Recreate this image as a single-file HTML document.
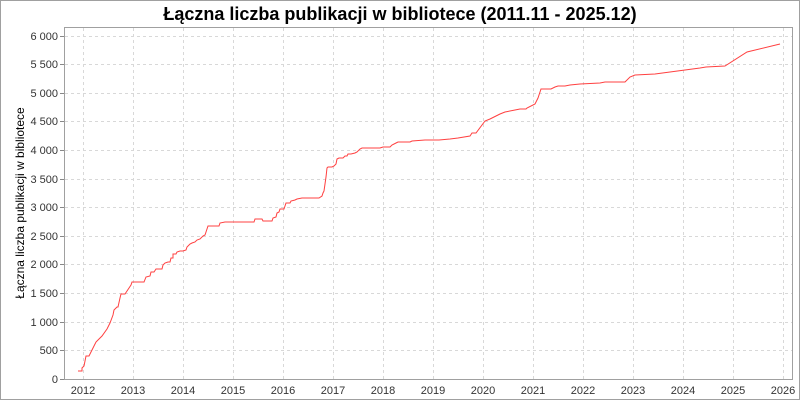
<!DOCTYPE html>
<html><head><meta charset="utf-8"><style>
body{margin:0;background:#fff}
svg{display:block;font-family:"Liberation Sans",sans-serif}
</style></head><body>
<svg width="800" height="400" viewBox="0 0 800 400">
<rect x="0.5" y="0.5" width="799" height="399" fill="#fff" stroke="#a0a0a0"/>
<text x="400" y="20" text-anchor="middle" font-size="18" font-weight="bold" fill="#000">Łączna liczba publikacji w bibliotece (2011.11 - 2025.12)</text>
<rect x="64.5" y="27.5" width="728" height="352" fill="#fff" stroke="#a0a0a0"/>
<g stroke="#d8d8d8" stroke-dasharray="3,3" stroke-width="1">
<line x1="65" x2="792" y1="36.5" y2="36.5"/><line x1="65" x2="792" y1="64.5" y2="64.5"/><line x1="65" x2="792" y1="93.5" y2="93.5"/><line x1="65" x2="792" y1="121.5" y2="121.5"/><line x1="65" x2="792" y1="150.5" y2="150.5"/><line x1="65" x2="792" y1="179.5" y2="179.5"/><line x1="65" x2="792" y1="207.5" y2="207.5"/><line x1="65" x2="792" y1="236.5" y2="236.5"/><line x1="65" x2="792" y1="264.5" y2="264.5"/><line x1="65" x2="792" y1="293.5" y2="293.5"/><line x1="65" x2="792" y1="322.5" y2="322.5"/><line x1="65" x2="792" y1="350.5" y2="350.5"/>
<line y1="28" y2="379" x1="83.5" x2="83.5"/><line y1="28" y2="379" x1="133.5" x2="133.5"/><line y1="28" y2="379" x1="183.5" x2="183.5"/><line y1="28" y2="379" x1="233.5" x2="233.5"/><line y1="28" y2="379" x1="283.5" x2="283.5"/><line y1="28" y2="379" x1="333.5" x2="333.5"/><line y1="28" y2="379" x1="383.5" x2="383.5"/><line y1="28" y2="379" x1="433.5" x2="433.5"/><line y1="28" y2="379" x1="483.5" x2="483.5"/><line y1="28" y2="379" x1="533.5" x2="533.5"/><line y1="28" y2="379" x1="583.5" x2="583.5"/><line y1="28" y2="379" x1="633.5" x2="633.5"/><line y1="28" y2="379" x1="683.5" x2="683.5"/><line y1="28" y2="379" x1="733.5" x2="733.5"/><line y1="28" y2="379" x1="783.5" x2="783.5"/>
</g>
<g stroke="#888" stroke-width="1">
<line x1="60" x2="64" y1="36.5" y2="36.5"/><line x1="60" x2="64" y1="64.5" y2="64.5"/><line x1="60" x2="64" y1="93.5" y2="93.5"/><line x1="60" x2="64" y1="121.5" y2="121.5"/><line x1="60" x2="64" y1="150.5" y2="150.5"/><line x1="60" x2="64" y1="179.5" y2="179.5"/><line x1="60" x2="64" y1="207.5" y2="207.5"/><line x1="60" x2="64" y1="236.5" y2="236.5"/><line x1="60" x2="64" y1="264.5" y2="264.5"/><line x1="60" x2="64" y1="293.5" y2="293.5"/><line x1="60" x2="64" y1="322.5" y2="322.5"/><line x1="60" x2="64" y1="350.5" y2="350.5"/><line x1="60" x2="64" y1="379.5" y2="379.5"/>
</g>
<g font-size="11" fill="#333" text-anchor="end">
<text x="58" y="40">6 000</text><text x="58" y="68">5 500</text><text x="58" y="97">5 000</text><text x="58" y="125">4 500</text><text x="58" y="154">4 000</text><text x="58" y="183">3 500</text><text x="58" y="211">3 000</text><text x="58" y="240">2 500</text><text x="58" y="268">2 000</text><text x="58" y="297">1 500</text><text x="58" y="326">1 000</text><text x="58" y="354">500</text><text x="58" y="383">0</text>
</g>
<g font-size="11" fill="#333" text-anchor="middle">
<text x="83" y="394">2012</text><text x="133" y="394">2013</text><text x="183" y="394">2014</text><text x="233" y="394">2015</text><text x="283" y="394">2016</text><text x="333" y="394">2017</text><text x="383" y="394">2018</text><text x="433" y="394">2019</text><text x="483" y="394">2020</text><text x="533" y="394">2021</text><text x="583" y="394">2022</text><text x="633" y="394">2023</text><text x="683" y="394">2024</text><text x="733" y="394">2025</text><text x="783" y="394">2026</text>
</g>
<text transform="translate(24,203) rotate(-90)" text-anchor="middle" font-size="12" fill="#000">Łączna liczba publikacji w bibliotece</text>
<polyline fill="none" stroke="#ff4040" stroke-width="1" points="78,371 82,371 82,368 84,366 86,356 89,356 91,352 94,346 96,342 98,340 102,336 107,329 110,323 113,315 114,310 117,307 118,307 120,298 121,294 125,294 127,291 129,288 131,285 132,282 144,282 146,277 150,276 151,272 154,272 156,269 162,269 163,265 165,263 168,262 170,262 171,258 173,258 173,254 176,254 177,252 180,251 183,251 186,250 187,247 190,244 192,243 195,242 197,240 200,239 203,236 205,235 206,232 208,226 219,226 220,223 225,222 254,222 255,219 262,219 263,221 272,221 273,218 276,217 277,213 279,212 280,209 284,209 286,203 290,203 291,201 295,200 297,199 302,198 319,198 322,196 323,193 324,191 325,184 326,177 327,168 328,167 332,167 334,166 336,164 337,159 339,158 343,158 345,156 347,156 348,154 351,154 355,153 357,152 360,149 362,148 380,148 383,147 390,147 392,145 396,143 398,142 410,142 412,141 425,140 439,140 450,139 458,138 470,136 472,133 476,133 485,121 490,119 494,117 500,114 505,112 515,110 520,109 526,109 527,108 535,104 538,98 541,89 551,89 555,87 558,86 565,86 570,85 580,84 600,83 605,82 625,82 630,77 635,75 655,74 700,68 706,67 725,66 747,52 780,44"/>
</svg>
</body></html>
